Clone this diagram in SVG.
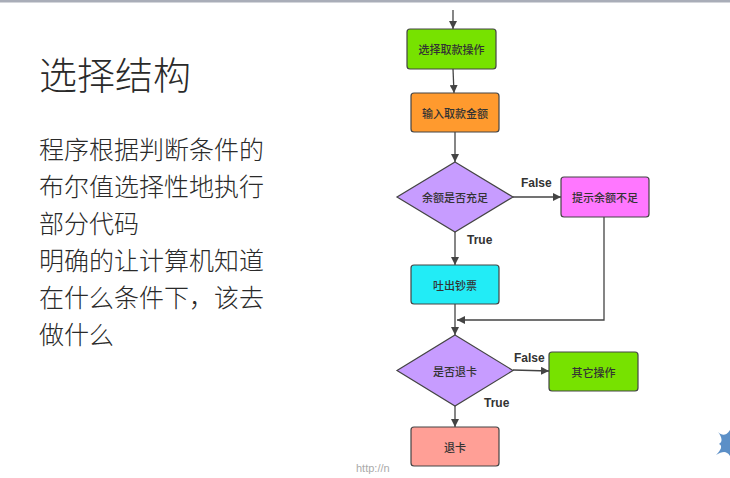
<svg xmlns="http://www.w3.org/2000/svg" width="730" height="478" viewBox="0 0 730 478">
<style>
.box{stroke:#444;stroke-width:1.2}
.lbl{font-family:"Noto Sans CJK SC","Noto Sans",sans-serif;font-size:11px;font-weight:500;fill:#333;text-anchor:middle;dominant-baseline:central}
.cond{font-family:"Liberation Sans",Arial,sans-serif;font-size:12px;font-weight:bold;fill:#333}
.edge{stroke:#444;stroke-width:1.3;fill:none}
.txt{font-family:"Noto Sans CJK SC","Noto Sans",sans-serif;font-weight:300;fill:#2a2a2a}
</style>
<defs>
<marker id="ah" viewBox="0 0 10 10" refX="10" refY="5" markerWidth="8" markerHeight="8" markerUnits="userSpaceOnUse" orient="auto">
<path d="M0,0 L10,5 L0,10 z" fill="#444"/>
</marker>
</defs>
<rect x="0" y="0" width="730" height="478" fill="#fff"/>
<rect x="0" y="0" width="730" height="2.5" fill="#a9adb8"/>
<text class="txt" x="39" y="89" font-size="38">选择结构</text>
<g class="txt" font-size="25">
<text x="39" y="159">程序根据判断条件的</text>
<text x="39" y="196">布尔值选择性地执行</text>
<text x="39" y="233">部分代码</text>
<text x="39" y="270">明确的让计算机知道</text>
<text x="39" y="307">在什么条件下，该去</text>
<text x="39" y="344">做什么</text>
</g>
<g id="connectors">
<path class="edge" d="M453,10 L453,29" marker-end="url(#ah)"/>
<path class="edge" d="M453,69 L454,93" marker-end="url(#ah)"/>
<path class="edge" d="M455,132 L455,162" marker-end="url(#ah)"/>
<path class="edge" d="M513,197 L561,197" marker-end="url(#ah)"/>
<path class="edge" d="M455,232 L455,265" marker-end="url(#ah)"/>
<path class="edge" d="M604,217 L604,320 L457,320" marker-end="url(#ah)"/>
<path class="edge" d="M455,304 L455,335" marker-end="url(#ah)"/>
<path class="edge" d="M513,370 L549,371" marker-end="url(#ah)"/>
<path class="edge" d="M455,406 L455,427" marker-end="url(#ah)"/>
<text class="cond" x="521" y="187">False</text>
<text class="cond" x="467" y="244">True</text>
<text class="cond" x="514" y="362">False</text>
<text class="cond" x="484" y="407">True</text>
</g>
<g id="n1"><rect class="box" x="407" y="29" width="89" height="40" rx="3" fill="#77e200"/><text class="lbl" x="451.5" y="49">选择取款操作</text></g>
<g id="n2"><rect class="box" x="411" y="93" width="88" height="39" rx="3" fill="#ff9a2e"/><text class="lbl" x="455" y="112.5">输入取款金额</text></g>
<g id="n3"><path class="box" d="M455,162 L513,197 L455,232 L397,197 z" fill="#c79cff"/><text class="lbl" x="455" y="197">余额是否充足</text></g>
<g id="n4"><rect class="box" x="561" y="177" width="88" height="40" rx="3" fill="#ff77ff"/><text class="lbl" x="605" y="197">提示余额不足</text></g>
<g id="n5"><rect class="box" x="411" y="265" width="88" height="39" rx="3" fill="#22ecf6"/><text class="lbl" x="455" y="284.5">吐出钞票</text></g>
<g id="n6"><path class="box" d="M455,335 L513,370.5 L455,406 L397,370.5 z" fill="#c79cff"/><text class="lbl" x="455" y="370.5">是否退卡</text></g>
<g id="n7"><rect class="box" x="549" y="352" width="89" height="39" rx="3" fill="#77e200"/><text class="lbl" x="593.5" y="371.5">其它操作</text></g>
<g id="n8"><rect class="box" x="411" y="427" width="88" height="39" rx="3" fill="#ff9f96"/><text class="lbl" x="455" y="446.5">退卡</text></g>
<text x="356" y="472" font-family="Liberation Sans,Arial,sans-serif" font-size="11" fill="#aaa">http://n</text>
<path d="M718,432 C722,436 726,436 730,430 L730,456 C726,450 722,452 716,455 C721,450 723,446 719,444 C723,442 722,437 718,432 z" fill="#5b8fc7"/>
</svg>
